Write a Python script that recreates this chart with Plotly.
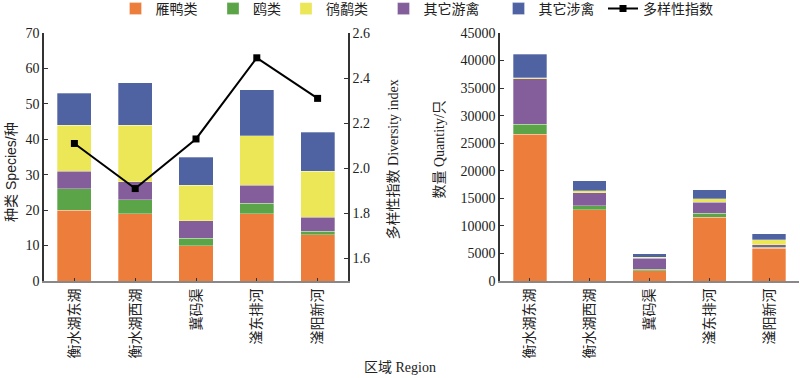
import plotly.graph_objects as go

regions = ["衡水湖东湖", "衡水湖西湖", "冀码渠", "滏东排河", "滏阳新河"]
groups = ["雁鸭类", "鸥类", "鸻鹬类", "其它游禽", "其它涉禽"]
colors = ["#ED7D3A", "#5BA548", "#EBE757", "#845E9A", "#4F62A1"]

species_yanya = [20, 19, 10, 19, 13]
species_ou = [6, 4, 2, 3, 1]
species_hengyu = [13, 16, 10, 14, 13]
species_youqin = [5, 5, 5, 5, 4]
species_sheqin = [9, 12, 8, 13, 11]
diversity = [2.11, 1.91, 2.13, 2.49, 2.31]

qty_yanya = [26600, 12950, 1900, 11550, 5950]
qty_ou = [1800, 700, 250, 700, 200]
qty_youqin = [8300, 2400, 2000, 2000, 400]
qty_hengyu = [200, 350, 120, 650, 900]
qty_sheqin = [4200, 1750, 650, 1700, 1100]

species = {"雁鸭类": species_yanya, "鸥类": species_ou, "鸻鹬类": species_hengyu,
           "其它游禽": species_youqin, "其它涉禽": species_sheqin}
quantity = {"雁鸭类": qty_yanya, "鸥类": qty_ou, "鸻鹬类": qty_hengyu,
            "其它游禽": qty_youqin, "其它涉禽": qty_sheqin}
stack_order = ["雁鸭类", "鸥类", "其它游禽", "鸻鹬类", "其它涉禽"]
color_of = dict(zip(groups, colors))
legend_rank = {g: i + 1 for i, g in enumerate(groups)}
NB = "\u00a0"
legend_pad = {"雁鸭类": 3, "鸥类": 0, "鸻鹬类": 3, "其它游禽": 4, "其它涉禽": 1}

SERIF = "Liberation Serif, Noto Sans CJK SC, serif"
CJK = "Liberation Serif, Noto Sans CJK SC"

fig = go.Figure()
for g in stack_order:
    fig.add_trace(go.Bar(x=regions, y=species[g], name=g + NB * legend_pad[g], marker_color=color_of[g],
                         marker_line=dict(color="rgba(255,255,255,0.5)", width=0.6),
                         width=0.56, xaxis="x", yaxis="y", legendrank=legend_rank[g]))
for g in stack_order:
    fig.add_trace(go.Bar(x=regions, y=quantity[g], name=g, marker_color=color_of[g],
                         marker_line=dict(color="rgba(255,255,255,0.5)", width=0.6),
                         width=0.56, xaxis="x2", yaxis="y3", showlegend=False))
fig.add_trace(go.Scatter(x=regions, y=diversity, name="多样性指数", mode="lines+markers",
                         line=dict(color="black", width=2),
                         marker=dict(symbol="square", size=7, color="black"),
                         xaxis="x", yaxis="y2", legendrank=10))

L, W = 44, 755
def px_x(p):
    return (p - L) / W

tickfont = dict(family=SERIF, size=14, color="#222")
axis_common = dict(showline=True, linecolor="#333", linewidth=1.5, ticks="inside", ticklen=4,
                   tickcolor="#333", showgrid=False, zeroline=False, tickfont=tickfont, automargin=False)
xaxis_common = dict(showline=True, linecolor="#888", linewidth=2, ticks="inside", ticklen=3,
                    tickcolor="#333", tickangle=-90, tickfont=tickfont, automargin=False)
fig.update_layout(
    width=800, height=378, margin=dict(l=44, r=1, t=33, b=97, autoexpand=False),
    plot_bgcolor="white", paper_bgcolor="white", barmode="stack",
    font=dict(family=CJK, size=14, color="#222"),
    showlegend=True,
    legend=dict(orientation="h", traceorder="normal", xref="container", yref="container",
                x=417 / 800, xanchor="center", y=1 - 9 / 378, yanchor="middle",
                font=dict(family=CJK, size=14), itemwidth=30),
    xaxis=dict(domain=[0.0, px_x(348)], anchor="y", **xaxis_common),
    yaxis=dict(domain=[0, 1], range=[0, 70], dtick=10, **axis_common),
    yaxis2=dict(domain=[0, 1], overlaying="y", side="right", anchor="x", range=[1.5, 2.6], tick0=1.6,
                dtick=0.2, tickformat=".1f", **axis_common),
    xaxis2=dict(domain=[px_x(500), 1.0], anchor="y3", **xaxis_common),
    yaxis3=dict(domain=[0, 1], anchor="x2", range=[0, 45000], dtick=5000, tickformat="d", **axis_common),
    annotations=[
        dict(text="区域 Region", x=px_x(400), y=-(367 - 281) / 248, xref="paper", yref="paper",
             xanchor="center", yanchor="middle", showarrow=False, font=dict(family=CJK, size=14)),
        dict(text="种类 Species/种", x=px_x(11), y=0.44, xref="paper", yref="paper", textangle=-90,
             xanchor="center", yanchor="middle", showarrow=False,
             font=dict(family="Liberation Sans, Noto Sans CJK SC", size=14)),
        dict(text="多样性指数 Diversity index", x=px_x(393), y=0.49, xref="paper", yref="paper",
             xanchor="center", yanchor="middle", textangle=-90, showarrow=False,
             font=dict(family=CJK, size=14)),
        dict(text="数量 Quantity/只", x=px_x(440), y=0.53, xref="paper", yref="paper", textangle=-90,
             xanchor="center", yanchor="middle", showarrow=False, font=dict(family=CJK, size=14)),
    ],
)
fig.write_html("out.html", config={"displayModeBar": False},
               post_script="document.body.style.margin='0';")
